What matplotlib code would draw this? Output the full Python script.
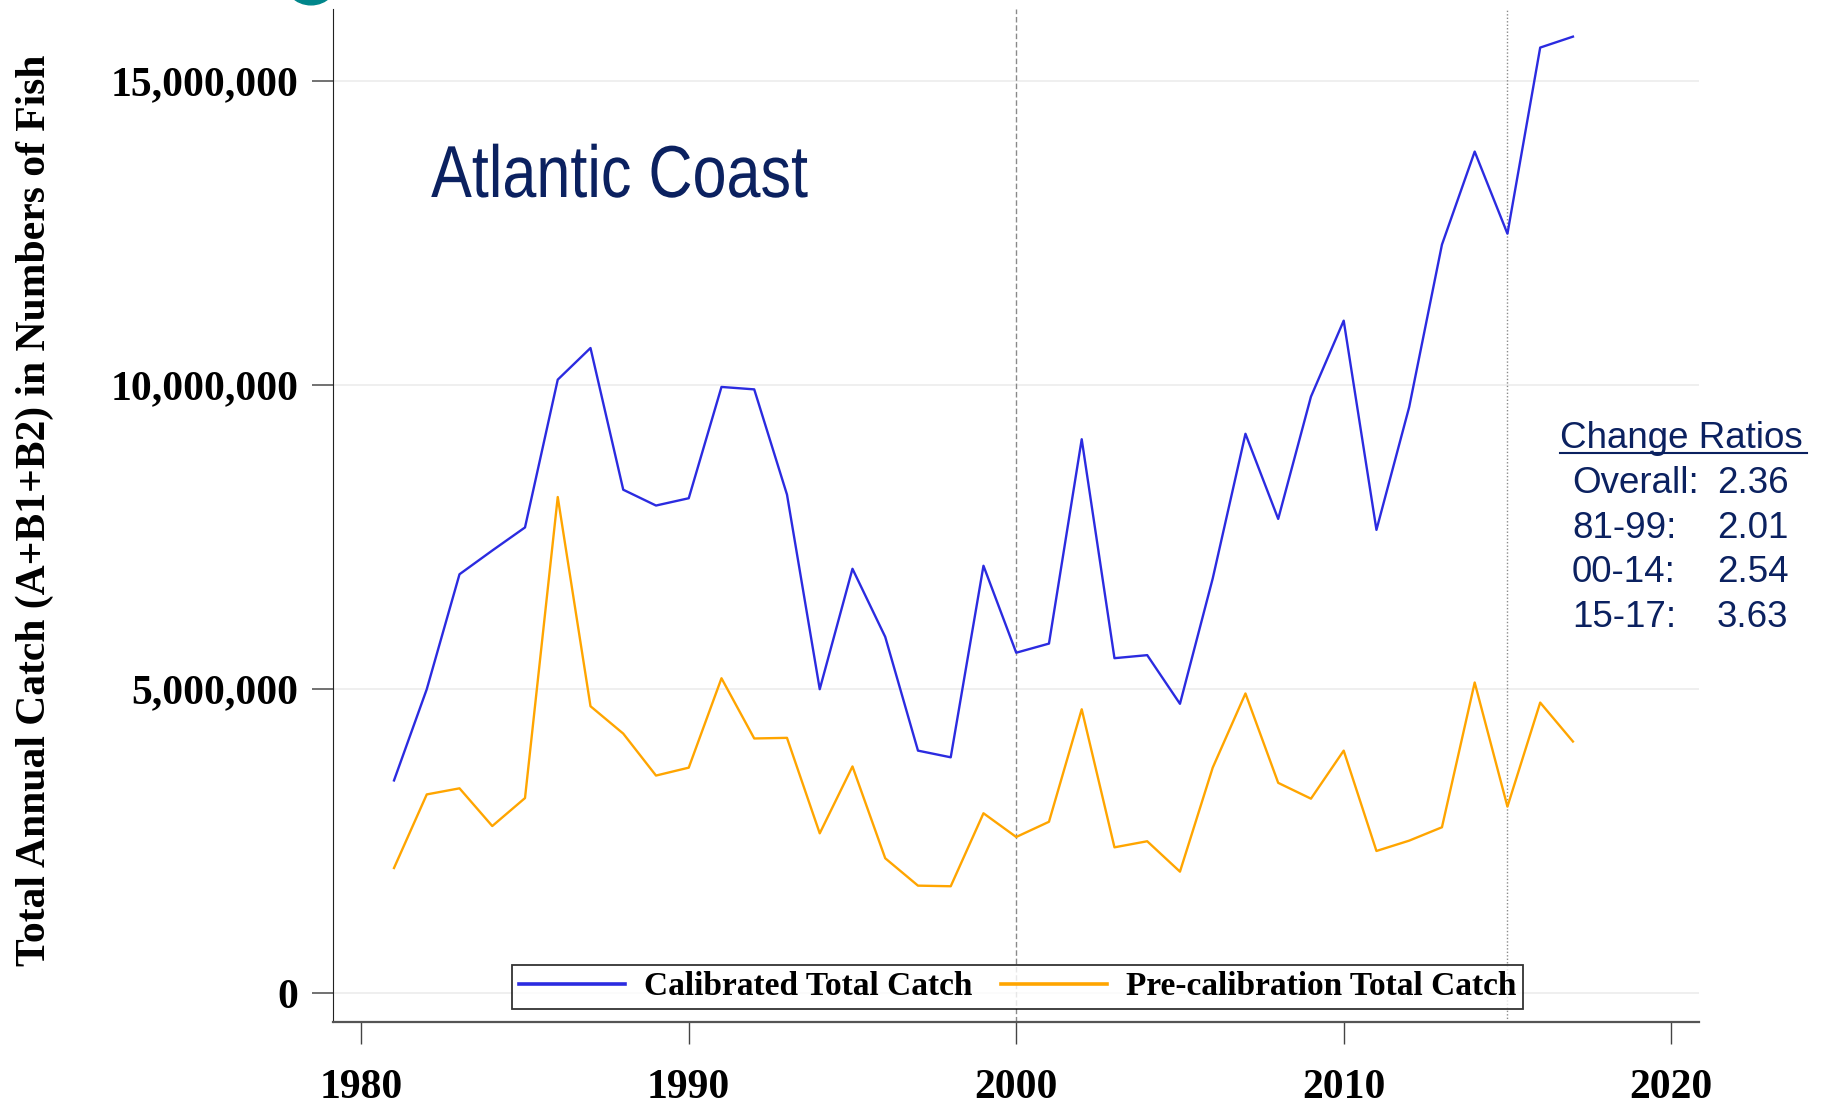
"""Atlantic Coast total annual catch: calibrated vs pre-calibration."""

import matplotlib

matplotlib.use("Agg")
import matplotlib.pyplot as plt
from matplotlib.patches import Ellipse
from matplotlib.patheffects import AbstractPathEffect
from matplotlib.ticker import FuncFormatter
from matplotlib.transforms import Affine2D

years = list(range(1981, 2018))
calibrated = [
    3.50, 5.00, 6.89, 7.28, 7.66, 10.09, 10.61, 8.28, 8.02, 8.14,
    9.97, 9.93, 8.20, 5.00, 6.98, 5.86, 3.99, 3.88, 7.03, 5.60,
    5.75, 9.11, 5.51, 5.56, 4.76, 6.82, 9.20, 7.80, 9.81, 11.06,
    7.62, 9.64, 12.31, 13.84, 12.49, 15.55, 15.73,
]
pre_calibration = [
    2.06, 3.27, 3.37, 2.75, 3.21, 8.16, 4.72, 4.27, 3.58, 3.71,
    5.18, 4.19, 4.20, 2.63, 3.73, 2.22, 1.77, 1.76, 2.96, 2.57,
    2.82, 4.67, 2.40, 2.50, 2.00, 3.71, 4.93, 3.46, 3.20, 3.99,
    2.34, 2.51, 2.73, 5.11, 3.07, 4.78, 4.14,
]
period_breaks = [2000, 2015]
ratio_labels = ["Overall:", "81-99:", "00-14:", "15-17:"]
ratio_values = ["2.36", "2.01", "2.54", "3.63"]

NAVY = "#0b2160"
SERIF = ["Liberation Serif", "DejaVu Serif"]
SANS = ["Liberation Sans", "DejaVu Sans"]


class Squeeze(AbstractPathEffect):
    """Narrow a left-aligned text horizontally (Arial Narrow look)."""

    def __init__(self, sx):
        super().__init__()
        self._sx = sx

    def draw_path(self, renderer, gc, tpath, affine, rgbFace=None):
        renderer.draw_path(gc, tpath, Affine2D().scale(self._sx, 1) + affine, rgbFace)


fig = plt.figure(figsize=(18.22, 11.03), dpi=100, facecolor="white")
ax = fig.add_axes([0.183, 0.073, 0.7495, 0.9186])

ax.plot(years, [v * 1e6 for v in calibrated], color="#2b2be0", lw=1.7,
        label="Calibrated Total Catch", zorder=3)
ax.plot(years, [v * 1e6 for v in pre_calibration], color="#ffa500", lw=1.7,
        label="Pre-calibration Total Catch", zorder=3)

ax.axvline(period_breaks[0], color="#8a8a8a", lw=1.0, ls=(0, (4, 2)), zorder=2)
ax.axvline(period_breaks[1], color="#8a8a8a", lw=1.0, ls=(0, (1, 1.5)), zorder=2)

ax.set_xlim(1979.15, 2020.85)
ax.set_ylim(-0.48e6, 16.18e6)
ax.set_xticks([1980, 1990, 2000, 2010, 2020])
ax.set_yticks([0, 5e6, 10e6, 15e6])
ax.yaxis.set_major_formatter(FuncFormatter(lambda v, _: f"{int(v):,}"))
ax.grid(axis="y", color="#ececec", lw=1.2)
ax.set_axisbelow(True)

for side in ("top", "right"):
    ax.spines[side].set_visible(False)
ax.spines["left"].set_color("#222222")
ax.spines["bottom"].set_color("#555555")
ax.spines["bottom"].set_linewidth(1.6)
ax.tick_params(axis="y", length=15, width=1.3, color="#666666", pad=10)
ax.tick_params(axis="x", length=16, width=1.0, color="#444444", pad=17.5)
for lab in ax.get_xticklabels() + ax.get_yticklabels():
    lab.set_fontfamily(SERIF)
    lab.set_fontweight("bold")
    lab.set_fontsize(30)

ax.set_ylabel("Total Annual Catch (A+B1+B2) in Numbers of Fish",
              family=SERIF, weight="bold", fontsize=30, va="center")
ax.yaxis.set_label_coords(-0.219, 0.505)

fig.text(0.2366, 0.8214, "Atlantic Coast", family=SANS, fontsize=53,
         color=NAVY, ha="left", va="baseline", path_effects=[Squeeze(0.83)])

leg = ax.legend(loc="lower center", bbox_to_anchor=(0.501, 0.0134), ncol=2,
                frameon=True, fancybox=False, handlelength=3.2,
                handletextpad=0.57, columnspacing=0.84, borderpad=0.2,
                borderaxespad=0.0,
                prop={"family": SERIF, "weight": "bold", "size": 24})
leg.get_frame().set_edgecolor("black")
leg.get_frame().set_linewidth(1.3)
for handle in leg.get_lines():
    handle.set_linewidth(2.6)

fig.text(0.8562, 0.5938, "Change Ratios", family=SANS, fontsize=26.5,
         color=NAVY, ha="left", va="baseline")
fig.add_artist(plt.Line2D([0.8562, 0.9918], [0.5895, 0.5895],
                          color=NAVY, lw=1.5))
for i, (lab, val) in enumerate(zip(ratio_labels, ratio_values)):
    y = 0.5530 - i * 0.0405
    fig.text(0.8628, y, lab, family=SANS, fontsize=26.5, color=NAVY,
             ha="left", va="baseline")
    fig.text(0.9424, y, val, family=SANS, fontsize=26.5, color=NAVY,
             ha="left", va="baseline")

fig.add_artist(Ellipse((0.1707, 1.021), 56 / 1822, 56 / 1103,
                       transform=fig.transFigure, color="#00868b",
                       clip_on=False))

fig.savefig("out.png", dpi=100, facecolor="white")
